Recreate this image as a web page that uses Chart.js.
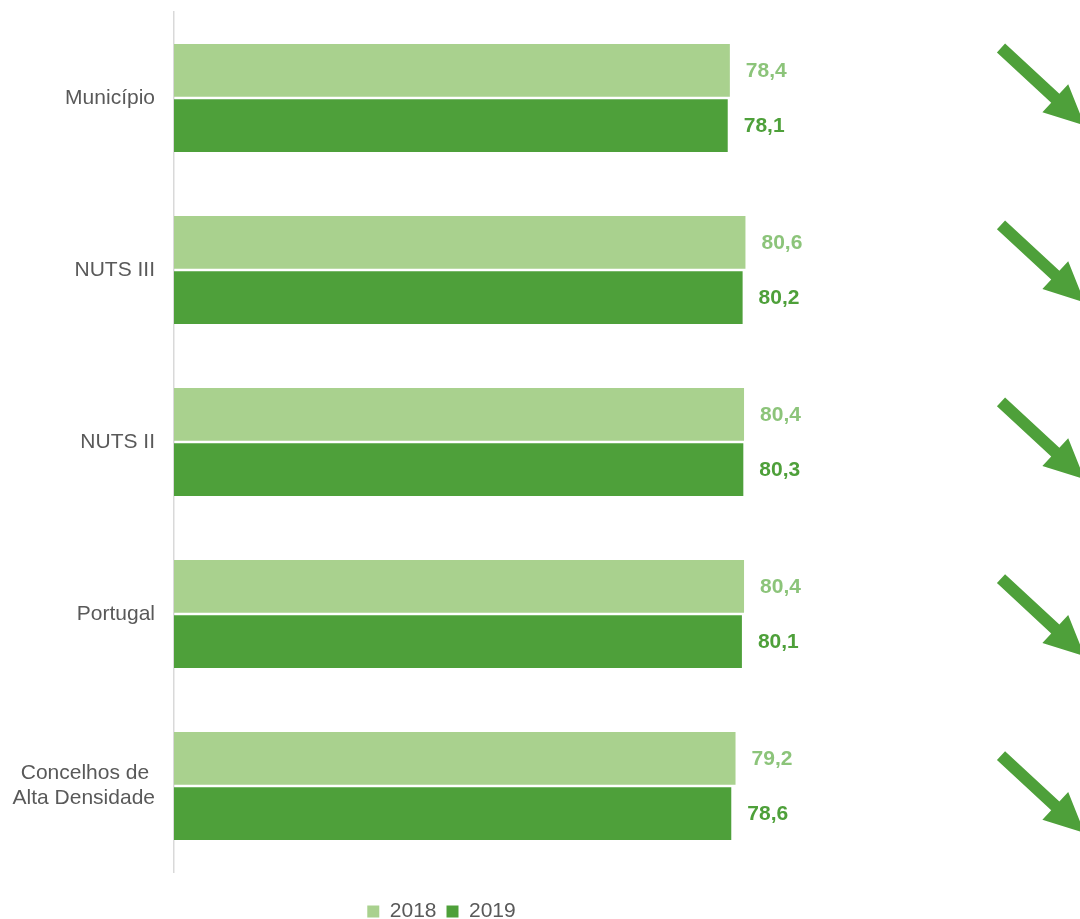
<!DOCTYPE html>
<html>
<head>
<meta charset="utf-8">
<script src="https://cdn.jsdelivr.net/npm/chart.js@4.4.1/dist/chart.umd.min.js"></script>
<style>
  html, body { margin: 0; padding: 0; background: #fff; }
  .wrap { width: 1080px; height: 919px; }
</style>
</head>
<body>
<div class="wrap"><canvas id="myChart"></canvas></div>
<script>
const categories = ["Município", "NUTS III", "NUTS II", "Portugal", ["Concelhos de ", "Alta Densidade"]];
const values2018 = [78.4, 80.6, 80.4, 80.4, 79.2];
const values2019 = [78.1, 80.2, 80.3, 80.1, 78.6];
const seriesNames = ["2018", "2019"];

const lightGreen = "#A9D18E";
const darkGreen = "#4EA03A";
const labelColors = ["#8CC47A", darkGreen];
const fontFam = "'Liberation Sans', Arial, sans-serif";

// value labels at the end of each bar
const valueLabels = {
  id: "valueLabels",
  afterDatasetsDraw(chart) {
    const ctx = chart.ctx;
    ctx.save();
    ctx.font = "bold 21px " + fontFam;
    ctx.textBaseline = "middle";
    ctx.textAlign = "left";
    chart.data.datasets.forEach((ds, di) => {
      const meta = chart.getDatasetMeta(di);
      ctx.fillStyle = labelColors[di];
      meta.data.forEach((bar, i) => {
        ctx.fillText(ds.data[i].toFixed(1).replace(".", ","), bar.x + 16, bar.y + 1);
      });
    });
    ctx.restore();
  }
};

// trend arrows on the right (down when 2019 < 2018)
const trendArrows = {
  id: "trendArrows",
  afterDraw(chart) {
    const ctx = chart.ctx;
    const y = chart.scales.y;
    const ang = Math.atan2(50, 54);
    ctx.save();
    ctx.fillStyle = darkGreen;
    values2018.forEach((v, i) => {
      if (values2019[i] >= v) return;
      const cy = y.getPixelForValue(i);
      ctx.save();
      ctx.translate(chart.chartArea.right + 118, cy - 50 + i * 4.9);
      ctx.rotate(ang);
      ctx.beginPath();
      ctx.moveTo(0, -6);
      ctx.lineTo(74, -6);
      ctx.lineTo(74, -19);
      ctx.lineTo(114, 0);
      ctx.lineTo(74, 19);
      ctx.lineTo(74, 6);
      ctx.lineTo(0, 6);
      ctx.closePath();
      ctx.fill();
      ctx.restore();
    });
    ctx.restore();
  }
};

new Chart(document.getElementById("myChart"), {
  type: "bar",
  data: {
    labels: categories,
    datasets: [
      {
        label: seriesNames[0],
        data: values2018,
        backgroundColor: lightGreen,
        categoryPercentage: 0.642,
        barPercentage: 0.955,
      },
      {
        label: seriesNames[1],
        data: values2019,
        backgroundColor: darkGreen,
        categoryPercentage: 0.642,
        barPercentage: 0.955,
      },
    ],
  },
  options: {
    indexAxis: "y",
    responsive: true,
    maintainAspectRatio: false,
    animation: false,
    layout: {
      padding: { top: 12, right: 197, bottom: -13, left: 0 },
    },
    scales: {
      x: {
        min: 0,
        max: 100,
        ticks: { display: false },
        grid: { display: false },
        border: { display: false },
        afterFit: (s) => { s.height = 19; },
      },
      y: {
        grid: { display: false, drawTicks: false },
        border: { display: true, color: "#D9D9D9", width: 1.5 },
        ticks: {
          padding: 19,
          color: "#595959",
          font: { family: fontFam, size: 21, lineHeight: 1.2 },
        },
        afterFit: (s) => {
          s.width = 174;
          s.paddingTop = 0;
          s.paddingBottom = 0;
        },
      },
    },
    plugins: {
      legend: {
        display: true,
        position: "bottom",
        labels: {
          boxWidth: 12,
          boxHeight: 12,
          padding: 10,
          color: "#595959",
          font: { family: fontFam, size: 21 },
        },
      },
      tooltip: { enabled: false },
    },
  },
  plugins: [valueLabels, trendArrows],
});
</script>
</body>
</html>
